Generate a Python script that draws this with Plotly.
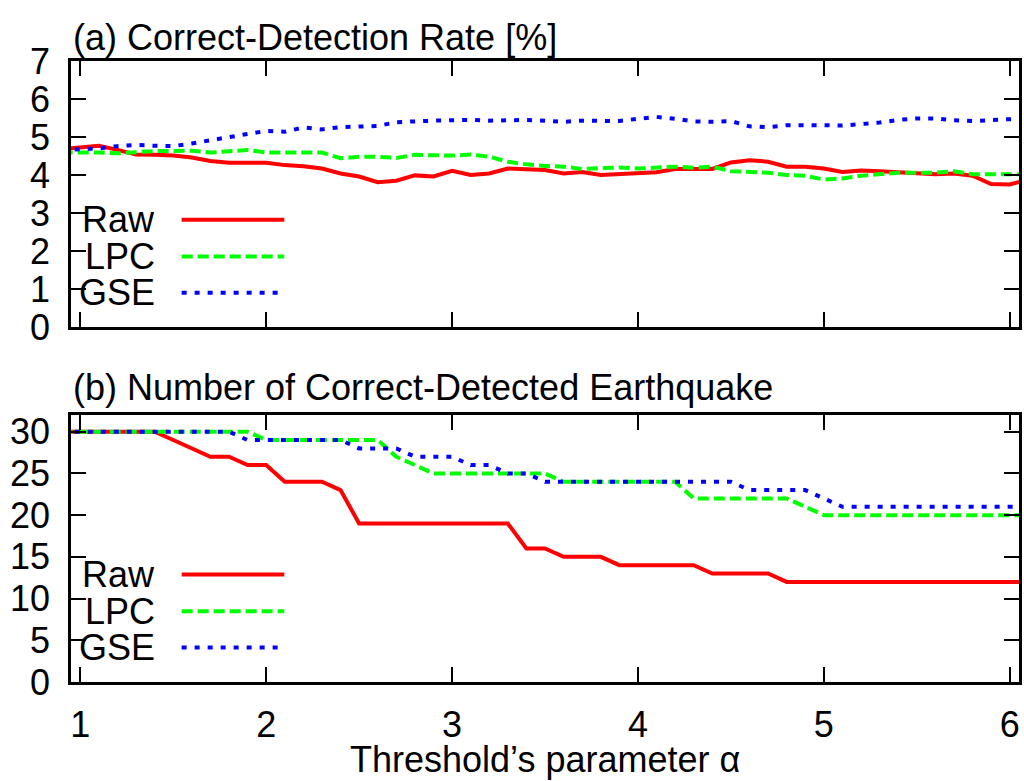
import plotly.graph_objects as go

# ---------------- data ----------------
alpha = [0.9, 1.0, 1.1, 1.2, 1.3, 1.4, 1.5, 1.6, 1.7, 1.8, 1.9, 2.0, 2.1, 2.2, 2.3, 2.4,
         2.5, 2.6, 2.7, 2.8, 2.9, 3.0, 3.1, 3.2, 3.3, 3.4, 3.5, 3.6, 3.7, 3.8, 3.9, 4.0,
         4.1, 4.2, 4.3, 4.4, 4.5, 4.6, 4.7, 4.8, 4.9, 5.0, 5.1, 5.2, 5.3, 5.4, 5.5, 5.6,
         5.7, 5.8, 5.9, 6.0, 6.1]

rate_raw = [4.68, 4.72, 4.77, 4.66, 4.54, 4.53, 4.51, 4.46, 4.37, 4.32, 4.33, 4.32, 4.26, 4.23,
            4.17, 4.04, 3.96, 3.81, 3.85, 3.99, 3.96, 4.11, 4.00, 4.04, 4.17, 4.16, 4.13, 4.04,
            4.08, 4.00, 4.02, 4.04, 4.07, 4.16, 4.16, 4.16, 4.33, 4.39, 4.35, 4.22, 4.22, 4.17,
            4.08, 4.12, 4.10, 4.08, 4.06, 4.02, 4.04, 3.98, 3.76, 3.75, 3.88]
rate_lpc = [4.59, 4.60, 4.59, 4.57, 4.61, 4.63, 4.63, 4.64, 4.59, 4.63, 4.66, 4.59, 4.59, 4.57,
            4.59, 4.44, 4.48, 4.48, 4.45, 4.53, 4.53, 4.51, 4.54, 4.48, 4.35, 4.28, 4.24, 4.22,
            4.16, 4.17, 4.20, 4.17, 4.19, 4.22, 4.19, 4.22, 4.10, 4.07, 4.06, 4.00, 3.98, 3.88,
            3.91, 3.98, 4.02, 4.06, 4.06, 4.06, 4.10, 4.02, 4.02, 4.02, 4.02]
rate_gse = [4.66, 4.69, 4.70, 4.76, 4.79, 4.77, 4.76, 4.83, 4.92, 4.99, 5.08, 5.16, 5.14, 5.25,
            5.20, 5.26, 5.27, 5.29, 5.39, 5.42, 5.43, 5.44, 5.45, 5.43, 5.45, 5.45, 5.43, 5.40,
            5.43, 5.43, 5.42, 5.48, 5.53, 5.48, 5.41, 5.40, 5.42, 5.28, 5.26, 5.31, 5.32, 5.31,
            5.30, 5.33, 5.38, 5.45, 5.49, 5.49, 5.44, 5.42, 5.45, 5.47, 5.47]

count_raw = [30, 30, 30, 30, 30, 30, 29, 28, 27, 27, 26, 26, 24, 24, 24, 23, 19, 19, 19, 19,
             19, 19, 19, 19, 19, 16, 16, 15, 15, 15, 14, 14, 14, 14, 14, 13, 13, 13, 13, 12,
             12, 12, 12, 12, 12, 12, 12, 12, 12, 12, 12, 12, 12]
count_lpc = [30, 30, 30, 30, 30, 30, 30, 30, 30, 30, 30, 29, 29, 29, 29, 29, 29, 29, 27, 26,
             25, 25, 25, 25, 25, 25, 25, 24, 24, 24, 24, 24, 24, 24, 22, 22, 22, 22, 22, 22,
             21, 20, 20, 20, 20, 20, 20, 20, 20, 20, 20, 20, 20]
count_gse = [30, 30, 30, 30, 30, 30, 30, 30, 30, 30, 29, 29, 29, 29, 29, 29, 28, 28, 28, 27,
             27, 27, 26, 26, 25, 25, 24, 24, 24, 24, 24, 24, 24, 24, 24, 24, 24, 23, 23, 23,
             23, 22, 21, 21, 21, 21, 21, 21, 21, 21, 21, 21, 21]

series_names = ["Raw", "LPC", "GSE"]
x_ticks = [1, 2, 3, 4, 5, 6]
rate_ticks = [0, 1, 2, 3, 4, 5, 6, 7]
count_ticks = [0, 5, 10, 15, 20, 25, 30]

# ---------------- style ----------------
FONT = "Liberation Sans, Arial, Helvetica, sans-serif"
FS = 36
colors = ["#ff0000", "#00ff00", "#0000ff"]
dashes = ["solid", "11px,5px", "5px,8px"]
LW = 4

fig = go.Figure()
for name, ys, c, d in zip(series_names, [rate_raw, rate_lpc, rate_gse], colors, dashes):
    fig.add_trace(go.Scatter(x=alpha, y=ys, mode="lines", name=name, showlegend=False,
                             line=dict(color=c, width=LW, dash=d), xaxis="x", yaxis="y"))
for name, ys, c, d in zip(series_names, [count_raw, count_lpc, count_gse], colors, dashes):
    fig.add_trace(go.Scatter(x=alpha, y=ys, mode="lines", name=name, showlegend=False,
                             line=dict(color=c, width=LW, dash=d), xaxis="x2", yaxis="y2"))

axis_common = dict(showline=True, linecolor="black", linewidth=2.5, mirror="ticks",
                   ticks="inside", ticklen=15, tickwidth=2, tickcolor="black",
                   showgrid=False, zeroline=False,
                   tickfont=dict(family=FONT, size=FS, color="black"))

top_dom = [(682 - 327) / 621, 1.0]
bot_dom = [0.0, (682 - 415) / 621]

fig.update_layout(
    width=1024, height=781,
    margin=dict(l=71, r=2, t=61, b=99),
    paper_bgcolor="white", plot_bgcolor="white",
    font=dict(family=FONT, size=FS, color="black"),
    xaxis=dict(domain=[0, 1], range=[0.95, 6.05], anchor="y", tickvals=x_ticks,
               showticklabels=False, **axis_common),
    yaxis=dict(domain=top_dom, range=[0, 7], anchor="x", tickvals=rate_ticks,
               ticklabelstandoff=11, **axis_common),
    xaxis2=dict(domain=[0, 1], range=[0.95, 6.05], anchor="y2", tickvals=x_ticks,
                ticklabelstandoff=9, **axis_common),
    yaxis2=dict(domain=bot_dom, range=[0, 32], anchor="x2", tickvals=count_ticks,
                ticklabelstandoff=11, **axis_common),
)

annotations = [
    dict(text="(a) Correct-Detection Rate [%]", xref="paper", yref="paper",
         x=0.0, y=(682 - 37) / 621, xanchor="left", yanchor="middle", showarrow=False,
         font=dict(family=FONT, size=FS, color="black")),
    dict(text="(b) Number of Correct-Detected Earthquake", xref="paper", yref="paper",
         x=0.0, y=(682 - 387) / 621, xanchor="left", yanchor="middle", showarrow=False,
         font=dict(family=FONT, size=FS, color="black")),
    dict(text="Threshold\u2019s parameter \u03b1", xref="paper", yref="paper",
         x=0.5, y=(682 - 759) / 621, xanchor="center", yanchor="middle", showarrow=False,
         font=dict(family=FONT, size=FS, color="black")),
]

# custom key (text right-justified, sample to the right), in each panel
key_y = [0.403, 0.265, 0.129]
shapes = []
for xr, yr in [("x", "y"), ("x2", "y2")]:
    for name, ky, c, d in zip(series_names, key_y, colors, dashes):
        annotations.append(dict(text=name, xref=f"{xr} domain", yref=f"{yr} domain",
                                x=0.0904, y=ky, xanchor="right", yanchor="middle",
                                showarrow=False,
                                font=dict(family=FONT, size=FS, color="black")))
        shapes.append(dict(type="line", xref=f"{xr} domain", yref=f"{yr} domain",
                           x0=0.1167, x1=0.225, y0=ky, y1=ky,
                           line=dict(color=c, width=LW, dash=d)))

fig.update_layout(annotations=annotations, shapes=shapes)
fig.write_html("out.html")
